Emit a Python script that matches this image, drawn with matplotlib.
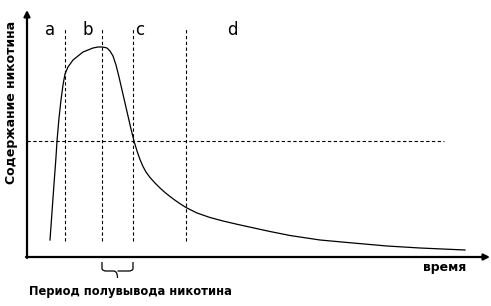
import matplotlib
matplotlib.use("Agg")
import matplotlib.pyplot as plt
from matplotlib.path import Path
from matplotlib.patches import PathPatch

# nicotine content curve (arbitrary units)
time = [23, 25, 27, 29, 30, 32, 34, 36, 38, 41, 46, 51, 56, 61, 66, 71, 75,
        78, 80, 83, 86, 89, 92, 95, 98, 101, 104, 107, 110, 113, 116, 119,
        123, 128, 133, 138, 143, 148, 153, 159, 170, 183, 196, 211, 243, 263,
        293, 326, 360, 393, 438]
content = [17, 45, 73, 100, 116, 139, 157, 172, 183, 190, 197, 201, 205, 207,
           209, 210, 210, 209.5, 209, 206, 201, 192, 180, 167, 154, 141, 128,
           116, 106, 97.5, 90.5, 85, 79.5, 74, 69, 64.5, 60.5, 56.8, 53.3,
           49.5, 44, 39.5, 36, 32.5, 25.5, 21.5, 17, 14, 11, 9, 7]

phase_bounds = [38, 75, 106, 159]
phase_labels = ["a", "b", "c", "d"]
phase_label_x = [18, 56, 108, 200]
half_level = 116
half_level_end = 417
half_life_span = (75, 106)

fig = plt.figure(figsize=(4.91, 3.06), dpi=100)
ax = fig.add_axes([27 / 491, 49 / 306, 462 / 491, 245 / 306])
ax.set_xlim(0, 462)
ax.set_ylim(0, 245)
ax.axis("off")

ax.plot(time, content, color="black", lw=0.9, clip_on=False,
        solid_joinstyle="round")

for xb in phase_bounds:
    ax.plot([xb, xb], [16, 228], color="black", lw=0.8, dashes=(3, 2.2))
ax.plot([0, half_level_end], [half_level, half_level], color="black", lw=0.8,
        dashes=(3, 2.2))

for lab, xl in zip(phase_labels, phase_label_x):
    ax.text(xl, 227, lab, fontsize=12, ha="left", va="center")

# axes with arrows
arrow = dict(arrowstyle="-|>", lw=1.6, color="black", mutation_scale=9,
             shrinkA=0, shrinkB=0)
ax.annotate("", xy=(0, 247), xytext=(0, -1), arrowprops=arrow,
            annotation_clip=False)
ax.annotate("", xy=(463, 0), xytext=(-1, 0), arrowprops=arrow,
            annotation_clip=False)

ax.text(-15, 155, "Содержание никотина", rotation=90, fontsize=9,
        fontweight="bold", ha="center", va="center")
ax.text(418, -11, "время", fontsize=9, fontweight="bold", ha="center",
        va="center")
ax.text(103, -35, "Период полувывода никотина", fontsize=8.3,
        fontweight="bold", ha="center", va="center")

# curly brace under the half-life interval
x0, x1 = half_life_span
xm = (x0 + x1) / 2
verts = [(x0, -5), (x0, -12), (x0 + 1, -14), (x0 + 4, -14),
         (xm - 4, -14), (xm, -14), (xm, -21),
         (xm, -14), (xm + 4, -14),
         (x1 - 4, -14), (x1 - 1, -14), (x1, -12), (x1, -5)]
codes = [Path.MOVETO, Path.LINETO, Path.CURVE3, Path.CURVE3,
         Path.LINETO, Path.CURVE3, Path.CURVE3,
         Path.MOVETO, Path.LINETO,
         Path.LINETO, Path.CURVE3, Path.CURVE3, Path.LINETO]
ax.add_patch(PathPatch(Path(verts, codes), fill=False, lw=0.9,
                       color="black", clip_on=False))

fig.savefig("out.png", dpi=100)
